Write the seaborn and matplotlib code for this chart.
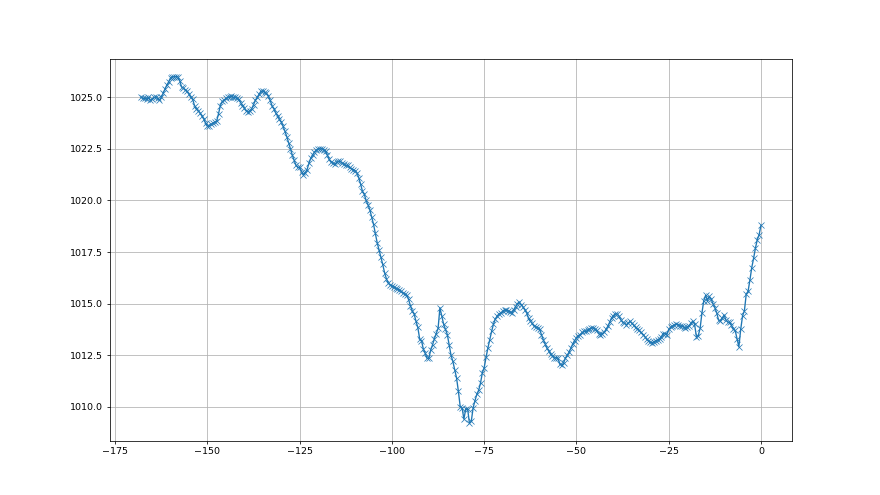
# air pressure over the last 7 days, half-hourly readings
import numpy as np
import pandas as pd
import matplotlib
matplotlib.use("Agg")
import matplotlib.pyplot as plt
import seaborn as sns

# hours relative to now (every half hour from -168 to 0)
hours = np.arange(-168, 0.5, 0.5)

# pressure in hPa, 10 readings per row (5 hours)
pressure = [
    1025.0, 1024.95, 1024.95, 1024.9, 1025.0, 1024.85, 1024.9, 1025.0, 1025.0, 1024.95,
    1024.85, 1025.0, 1025.2, 1025.4, 1025.6, 1025.75, 1025.95, 1026.0, 1026.0, 1026.0,
    1026.0, 1025.8, 1025.5, 1025.45, 1025.35, 1025.3, 1025.15, 1025.0, 1024.9, 1024.6,
    1024.45, 1024.35, 1024.25, 1024.1, 1023.95, 1023.75, 1023.6, 1023.6, 1023.7, 1023.75,
    1023.8, 1023.85, 1024.2, 1024.6, 1024.8, 1024.85, 1024.95, 1025.0, 1025.0, 1025.05,
    1025.0, 1025.0, 1024.95, 1024.9, 1024.75, 1024.6, 1024.5, 1024.35, 1024.3, 1024.35,
    1024.45, 1024.65, 1024.85, 1025.0, 1025.15, 1025.3, 1025.3, 1025.25, 1025.2, 1025.05,
    1024.85, 1024.6, 1024.45, 1024.25, 1024.1, 1023.95, 1023.8, 1023.6, 1023.35, 1023.1,
    1022.8, 1022.5, 1022.2, 1021.95, 1021.7, 1021.6, 1021.6, 1021.4, 1021.25, 1021.35,
    1021.5, 1021.8, 1022.05, 1022.2, 1022.35, 1022.45, 1022.5, 1022.5, 1022.5, 1022.45,
    1022.4, 1022.2, 1022.0, 1021.85, 1021.8, 1021.75, 1021.85, 1021.9, 1021.9, 1021.8,
    1021.75, 1021.7, 1021.7, 1021.6, 1021.55, 1021.5, 1021.45, 1021.35, 1021.1, 1020.8,
    1020.45, 1020.3, 1020.0, 1019.8, 1019.55, 1019.2, 1018.85, 1018.4, 1017.95, 1017.6,
    1017.25, 1016.9, 1016.5, 1016.2, 1016.0, 1015.9, 1015.85, 1015.8, 1015.75, 1015.7,
    1015.68, 1015.6, 1015.5, 1015.45, 1015.4, 1015.2, 1014.9, 1014.65, 1014.5, 1014.15,
    1013.85, 1013.3, 1013.2, 1012.8, 1012.6, 1012.35, 1012.35, 1012.75, 1013.0, 1013.3,
    1013.55, 1013.8, 1014.8, 1014.4, 1014.0, 1013.75, 1013.5, 1013.0, 1012.5, 1012.2,
    1011.8, 1011.4, 1010.75, 1010.0, 1009.95, 1009.4, 1009.9, 1009.9, 1009.2, 1009.3,
    1009.95, 1010.3, 1010.6, 1010.8, 1011.15, 1011.65, 1011.9, 1012.4, 1012.85, 1013.25,
    1013.65, 1014.0, 1014.25, 1014.4, 1014.5, 1014.55, 1014.63, 1014.7, 1014.68, 1014.65,
    1014.6, 1014.55, 1014.7, 1014.85, 1015.0, 1015.08, 1014.95, 1014.85, 1014.7, 1014.55,
    1014.3, 1014.15, 1014.05, 1013.9, 1013.85, 1013.82, 1013.75, 1013.5, 1013.25, 1013.05,
    1012.85, 1012.7, 1012.55, 1012.45, 1012.35, 1012.38, 1012.35, 1012.05, 1012.0, 1012.12,
    1012.35, 1012.5, 1012.65, 1012.85, 1013.05, 1013.2, 1013.35, 1013.45, 1013.5, 1013.6,
    1013.65, 1013.65, 1013.7, 1013.77, 1013.8, 1013.82, 1013.75, 1013.7, 1013.55, 1013.5,
    1013.55, 1013.6, 1013.75, 1013.9, 1014.1, 1014.3, 1014.42, 1014.5, 1014.5, 1014.4,
    1014.22, 1014.1, 1014.05, 1013.98, 1014.05, 1014.14, 1014.05, 1013.95, 1013.85, 1013.75,
    1013.7, 1013.6, 1013.5, 1013.4, 1013.3, 1013.2, 1013.12, 1013.1, 1013.15, 1013.2,
    1013.25, 1013.3, 1013.4, 1013.55, 1013.55, 1013.5, 1013.75, 1013.85, 1013.92, 1013.95,
    1014.0, 1013.98, 1013.93, 1013.9, 1013.88, 1013.82, 1013.85, 1013.93, 1014.05, 1014.15,
    1014.0, 1013.4, 1013.45, 1013.8, 1014.55, 1015.15, 1015.4, 1015.15, 1015.35, 1015.2,
    1015.0, 1014.8, 1014.55, 1014.2, 1014.15, 1014.3, 1014.45, 1014.2, 1014.1, 1014.1,
    1013.95, 1013.75, 1013.7, 1013.3, 1012.9, 1013.75, 1014.4, 1014.65, 1015.45, 1015.6,
    1016.15, 1016.75, 1017.2, 1017.7, 1018.1, 1018.35, 1018.8,
]

df = pd.DataFrame({"hours": hours, "pressure": pressure})

# original figure was 1280x720, scaled down to 880x495
fig, ax = plt.subplots(figsize=(12.8, 7.2), dpi=68.75)

# line with thin x markers, same colour for markers as for the line
sns.lineplot(data=df, x="hours", y="pressure", marker="x", color="C0",
             markeredgecolor="C0", markeredgewidth=0.75, markersize=5.5,
             linewidth=1.4, ax=ax)

# no axis labels in the original, just the grid
ax.set_xlabel("")
ax.set_ylabel("")
ax.grid(True)

fig.savefig("out.png", dpi=68.75)
